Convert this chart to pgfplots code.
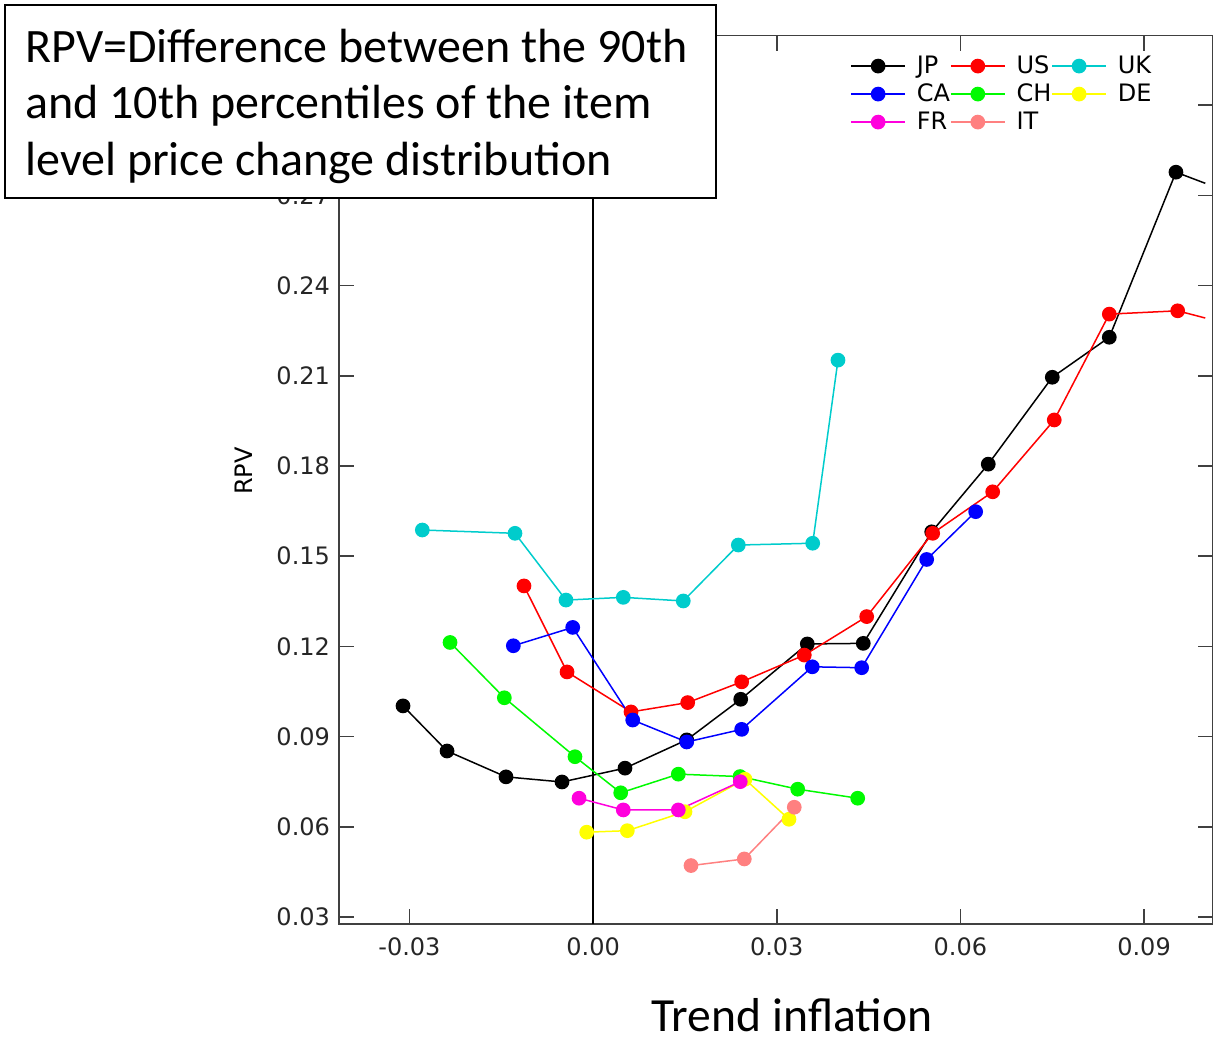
\documentclass[border=0pt]{standalone}
\usepackage{pgfplots}
\pgfplotsset{compat=1.18}
\usepackage{fontspec}
\setmainfont{DejaVu Sans}
\newfontfamily\carlito{Carlito}
\definecolor{ukc}{RGB}{0,204,204}
\definecolor{chg}{RGB}{0,250,0}
\definecolor{dey}{RGB}{255,255,0}
\definecolor{frm}{RGB}{255,0,221}
\definecolor{its}{RGB}{255,128,128}
\begin{document}
\begin{tikzpicture}
\begin{axis}[
 at={(0,0)}, anchor=south west,
 scale only axis, width=436.85pt, height=444.15pt,
 xmin=-0.04151, xmax=0.10121, ymin=0.02767, ymax=0.3231,
 scaled ticks=false,
 xtick={-0.03,0,0.03,0.06,0.09}, xticklabels={-0.03,0.00,0.03,0.06,0.09},
 ytick={0.03,0.06,0.09,0.12,0.15,0.18,0.21,0.24,0.27,0.30},
 yticklabels={0.03,0.06,0.09,0.12,0.15,0.18,0.21,0.24,0.27,{}},
 tick align=inside, tick pos=both, major tick length=7.5pt,
 tick style={black!75, line width=0.8pt},
 axis line style={black!75, line width=0.8pt},
 ticklabel style={font=\fontsize{12}{14}\selectfont, text=black!85},
 xticklabel style={yshift=-3.5pt},
 yticklabel style={xshift=-1pt},
 every axis plot/.append style={line width=0.75pt, mark=*, mark size=3.3pt, mark options={solid}},
 legend columns=3,
 legend cell align=left,
 legend style={at={(255.5/436.85,1-9.5/444.15)}, anchor=north west, draw=none, fill=none,
   inner sep=0pt, row sep=3pt, font=\fontsize{12}{14}\selectfont,
   nodes={inner sep=0pt, text height=9pt, text depth=2pt},
   /tikz/every odd column/.style={column sep=5.5pt},
   /tikz/every even column/.style={column sep=0pt}},
 legend image code/.code={\draw[line width=0.75pt, mark repeat=2,mark phase=2] plot coordinates {(0pt,0pt) (13.5pt,0pt) (27pt,0pt)};},
]
\addplot[black, line width=0.7pt, mark=none, forget plot] coordinates {(0,0.02767) (0,0.3231)};
% JP
\addplot[black] coordinates {
(-0.03105,0.1002) (-0.02386,0.0852) (-0.01423,0.0766) (-0.00508,0.0749) (0.00521,0.0795)
(0.01529,0.0889) (0.02411,0.1024) (0.03499,0.1208) (0.04413,0.1210) (0.05531,0.1581)
(0.06455,0.1806) (0.07501,0.2095) (0.08432,0.2228) (0.09521,0.2777)};
\addlegendentry{JP}
% US
\addplot[red] coordinates {
(-0.01129,0.1401) (-0.00426,0.1115) (0.00619,0.0982) (0.01545,0.1013) (0.02427,0.1082)
(0.0345,0.1171) (0.04469,0.1299) (0.05547,0.1576) (0.06527,0.1714) (0.07533,0.1953)
(0.08432,0.2305) (0.09549,0.2316)};
\addlegendentry{US}
% UK
\addplot[ukc] coordinates {
(-0.0279,0.1587) (-0.01276,0.1576) (-0.00443,0.1354) (0.00493,0.1363) (0.01473,0.1351)
(0.02372,0.1537) (0.03587,0.1543) (0.04,0.2152)};
\addlegendentry{UK}
% CA
\addplot[blue] coordinates {
(-0.01303,0.1202) (-0.00333,0.1263) (0.00647,0.0955) (0.01529,0.0882) (0.02427,0.0924)
(0.0358,0.1132) (0.04387,0.1129) (0.05449,0.1489) (0.06249,0.1648)};
\addlegendentry{CA}
% CH
\addplot[chg] coordinates {
(-0.02337,0.1213) (-0.0145,0.1029) (-0.00296,0.0833) (0.00451,0.0713) (0.01392,0.0775)
(0.024,0.0767) (0.03342,0.0725) (0.04322,0.0695)};
\addlegendentry{CH}
% DE
\addplot[dey] coordinates {
(-0.00105,0.0582) (0.00559,0.0587) (0.01501,0.0650) (0.02481,0.0758) (0.032,0.0625)};
\addlegendentry{DE}
% FR
\addplot[frm] coordinates {
(-0.0023,0.0695) (0.00493,0.0656) (0.01392,0.0656) (0.02404,0.0750)};
\addlegendentry{FR}
% IT
\addplot[its] coordinates {
(0.01599,0.0471) (0.0247,0.0493) (0.03286,0.0665)};
\addlegendentry{IT}
% line ends at the clip edge
\addplot[black, mark=none, forget plot] coordinates {(0.09521,0.2777) (0.1,0.2740)};
\addplot[red, mark=none, forget plot] coordinates {(0.09549,0.2316) (0.1,0.2292)};
\end{axis}
\node[rotate=90, font=\fontsize{12}{14}\selectfont] at (-47.5pt,226.5pt) {RPV};
\node[anchor=base, inner sep=0pt, font=\carlito\fontsize{23.8}{28}\selectfont] at (226.5pt,-54pt) {Trend inflation};
\draw[line width=1pt, fill=white] (-167pt,363pt) rectangle (188.5pt,459.5pt);
\begin{scope}[every node/.style={anchor=base west, inner sep=0pt, font=\carlito\fontsize{24}{28}\selectfont}]
\node at (-157pt,430.5pt) {RPV=Difference between the 90th};
\node at (-157pt,402.5pt) {and 10th percentiles of the item};
\node at (-157pt,374pt) {level price change distribution};
\end{scope}
\pgfresetboundingbox
\useasboundingbox (-169.5pt,-61.5pt) rectangle (442pt,462pt);
\end{tikzpicture}
\end{document}
